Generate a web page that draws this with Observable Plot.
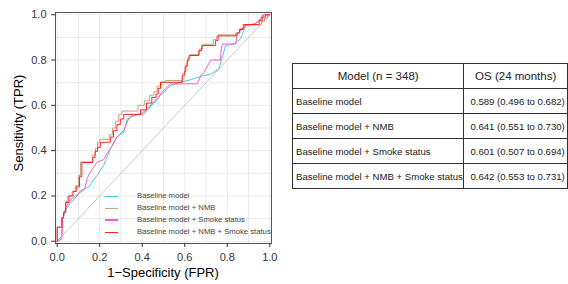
<!DOCTYPE html>
<html>
<head>
<meta charset="utf-8">
<script src="https://cdn.jsdelivr.net/npm/d3@7"></script>
<script src="https://cdn.jsdelivr.net/npm/@observablehq/plot@0.6"></script>
<style>
  html, body { margin: 0; padding: 0; background: #fff; }
  body { font-family: "Liberation Sans", Arial, sans-serif; }
  #page { position: relative; width: 568px; height: 284px; overflow: hidden; }
  #chart { position: absolute; left: 0; top: 0; }
  .title { position: absolute; font-size: 13px; color: #000; white-space: nowrap; }
  #ytitle { left: 18px; top: 123px; transform: translate(-50%, -50%) rotate(-90deg); }
  #xtitle { left: 163px; top: 272px; transform: translate(-50%, -50%); }
  #legend { position: absolute; left: 105px; top: 190px; font-size: 7.7px; color: #444; }
  .lrow { position: absolute; left: 0; height: 12px; width: 170px; white-space: nowrap; }
  .sw { position: absolute; left: 0; width: 13px; }
  .lt { position: absolute; left: 32px; top: 0; line-height: 12px; }
  table { position: absolute; left: 292px; top: 63px; border-collapse: collapse; font-family: "Liberation Sans", Arial, sans-serif; }
  td, th { border: 1px solid #333; height: 24px; padding: 0; white-space: nowrap; color: #222; }
  th { font-weight: normal; font-size: 11.5px; text-align: center; }
  td { font-size: 9.6px; }
  td.c1 { padding-left: 3px; text-align: left; }
  td.c2 { padding-left: 6px; text-align: left; }
</style>
</head>
<body>
<div id="page">
  <div id="chart"></div>
  <div id="ytitle" class="title"></div>
  <div id="xtitle" class="title"></div>
  <div id="legend"></div>
  <table id="tbl"></table>
</div>
<script>
// ---- Data ----
const seriesNames = [
  "Baseline model",
  "Baseline model + NMB",
  "Baseline model + Smoke status",
  "Baseline model + NMB + Smoke status"
];
const seriesColors = ["#4CC3F0", "#C8A07A", "#FF5CBF", "#FF2424"];

const rocBaseline = [[0,0],[0.02,0.02],[0.025,0.096],[0.04,0.14],[0.064,0.17],[0.094,0.2],[0.11,0.224],[0.15,0.24],[0.17,0.27],[0.187,0.29],[0.218,0.335],[0.234,0.37],[0.25,0.409],[0.28,0.46],[0.313,0.482],[0.33,0.54],[0.345,0.548],[0.39,0.563],[0.42,0.578],[0.453,0.607],[0.486,0.644],[0.517,0.673],[0.533,0.688],[0.58,0.702],[0.627,0.713],[0.675,0.728],[0.722,0.738],[0.76,0.76],[0.777,0.813],[0.792,0.864],[0.832,0.871],[0.863,0.894],[0.887,0.953],[0.934,0.96],[0.95,0.975],[0.965,1],[1,1]];

const rocNMB = [[0,0],[0.02,0.062],[0.03,0.105],[0.04,0.13],[0.05,0.175],[0.07,0.2],[0.085,0.22],[0.1,0.245],[0.11,0.29],[0.165,0.35],[0.18,0.38],[0.19,0.41],[0.2,0.435],[0.245,0.45],[0.26,0.47],[0.275,0.5],[0.29,0.53],[0.305,0.56],[0.38,0.575],[0.41,0.6],[0.435,0.62],[0.455,0.645],[0.47,0.66],[0.49,0.685],[0.51,0.702],[0.59,0.71],[0.6,0.74],[0.61,0.77],[0.615,0.79],[0.625,0.81],[0.67,0.825],[0.685,0.85],[0.735,0.87],[0.75,0.89],[0.84,0.905],[0.86,0.92],[0.88,0.94],[0.96,0.955],[0.975,0.97],[0.99,0.985],[1,1]];

const rocSmoke = [[0,0],[0.022,0.01],[0.025,0.096],[0.04,0.148],[0.064,0.185],[0.108,0.215],[0.13,0.23],[0.14,0.274],[0.15,0.296],[0.187,0.348],[0.218,0.36],[0.234,0.387],[0.258,0.42],[0.28,0.457],[0.313,0.49],[0.336,0.54],[0.35,0.555],[0.41,0.563],[0.42,0.578],[0.453,0.615],[0.47,0.63],[0.5,0.665],[0.533,0.695],[0.659,0.695],[0.675,0.731],[0.69,0.746],[0.722,0.8],[0.768,0.8],[0.772,0.85],[0.777,0.871],[0.84,0.871],[0.847,0.917],[0.887,0.953],[0.93,0.96],[0.957,0.98],[0.972,1],[1,1]];

const rocNMBSmoke = [[0,0],[0.022,0.062],[0.03,0.103],[0.04,0.127],[0.055,0.171],[0.075,0.2],[0.09,0.22],[0.105,0.24],[0.116,0.285],[0.168,0.348],[0.178,0.37],[0.19,0.397],[0.203,0.415],[0.25,0.437],[0.265,0.46],[0.281,0.488],[0.297,0.515],[0.313,0.54],[0.392,0.56],[0.42,0.58],[0.445,0.61],[0.465,0.635],[0.475,0.65],[0.486,0.675],[0.588,0.702],[0.598,0.73],[0.605,0.75],[0.612,0.776],[0.62,0.8],[0.666,0.82],[0.68,0.842],[0.745,0.864],[0.757,0.887],[0.847,0.91],[0.857,0.92],[0.875,0.935],[0.95,0.957],[0.965,0.975],[0.98,0.99],[1,1]];

const diagonal = [[0,0],[1,1]];
const majorTicks = [0, 0.2, 0.4, 0.6, 0.8, 1.0];
const gridTicks = [0, 0.1, 0.2, 0.3, 0.4, 0.5, 0.6, 0.7, 0.8, 0.9, 1.0];

const tableHeader = ["Model (n = 348)", "OS (24 months)"];
const tableModels = seriesNames;
const tableAUC = ["0.589 (0.496 to 0.682)", "0.641 (0.551 to 0.730)", "0.601 (0.507 to 0.694)", "0.642 (0.553 to 0.731)"];

// ---- Plot ----
const chart = Plot.plot({
  width: 280,
  height: 284,
  marginLeft: 55,
  marginRight: 9,
  marginTop: 12,
  marginBottom: 41,
  style: { fontFamily: "'Liberation Sans', Arial, sans-serif", fontSize: "11px", color: "#333", background: "transparent" },
  x: { domain: [-0.008, 1.008] },
  y: { domain: [-0.01, 1.01] },
  marks: [
    Plot.gridX(gridTicks, { stroke: "#EBEBEB", strokeOpacity: 1, strokeWidth: 1 }),
    Plot.gridY(gridTicks, { stroke: "#EBEBEB", strokeOpacity: 1, strokeWidth: 1 }),
    Plot.line(diagonal, { stroke: "#C4C4C4", strokeWidth: 0.9 }),
    Plot.line(rocBaseline, { stroke: seriesColors[0], strokeWidth: 1 }),
    Plot.line(rocNMB, { stroke: seriesColors[1], strokeWidth: 1, curve: "step-before" }),
    Plot.line(rocSmoke, { stroke: seriesColors[2], strokeWidth: 1 }),
    Plot.line(rocNMBSmoke, { stroke: seriesColors[3], strokeWidth: 1, curve: "step-before" }),
    Plot.frame({ stroke: "#555", strokeWidth: 1 }),
    Plot.axisX({ ticks: majorTicks, tickFormat: ".1f", tickSize: 4, tickPadding: 6, label: null, stroke: "#333" }),
    Plot.axisY({ ticks: majorTicks, tickFormat: ".1f", tickSize: 4, tickPadding: 5, label: null, stroke: "#333" })
  ]
});
document.getElementById("chart").appendChild(chart);
document.getElementById("ytitle").textContent = "Sensitivity (TPR)";
document.getElementById("xtitle").textContent = "1\u2212Specificity (FPR)";

// ---- Legend ----
const legend = document.getElementById("legend");
const rowTops = [0, 12, 24, 36];
seriesNames.forEach((name, i) => {
  const row = document.createElement("div");
  row.className = "lrow";
  row.style.top = rowTops[i] + "px";
  const sw = document.createElement("div");
  sw.className = "sw";
  const th = (i === 2) ? 2 : 1;
  sw.style.height = th + "px";
  sw.style.top = (i === 2 ? 5 : 6) + "px";
  sw.style.backgroundColor = seriesColors[i];
  const t = document.createElement("span");
  t.className = "lt";
  t.textContent = name;
  row.appendChild(sw);
  row.appendChild(t);
  legend.appendChild(row);
});

// ---- Table ----
const tbl = document.getElementById("tbl");
const hr = document.createElement("tr");
tableHeader.forEach((h, j) => {
  const th = document.createElement("th");
  th.textContent = h;
  th.style.width = j === 0 ? "172px" : "110px";
  hr.appendChild(th);
});
tbl.appendChild(hr);
tableModels.forEach((m, i) => {
  const tr = document.createElement("tr");
  const a = document.createElement("td"); a.className = "c1"; a.textContent = m;
  const b = document.createElement("td"); b.className = "c2"; b.textContent = tableAUC[i];
  tr.appendChild(a); tr.appendChild(b);
  tbl.appendChild(tr);
});
</script>
</body>
</html>
